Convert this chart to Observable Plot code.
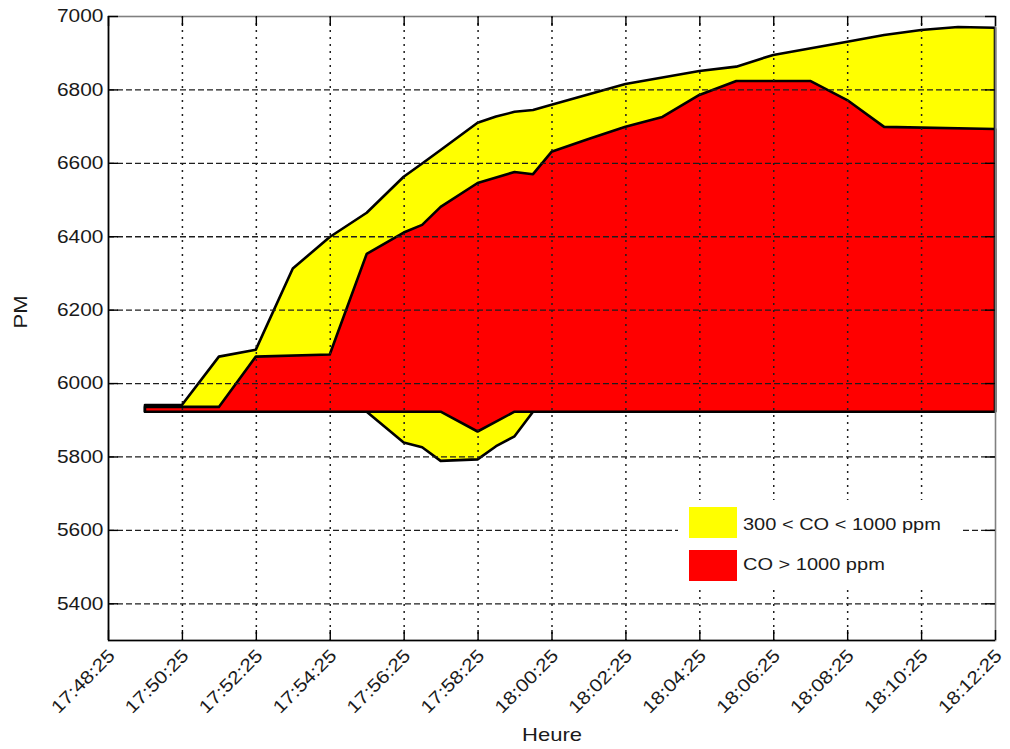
<!DOCTYPE html>
<html><head><meta charset="utf-8">
<script src="https://cdn.jsdelivr.net/npm/d3@7"></script>
<script src="https://cdn.jsdelivr.net/npm/@observablehq/plot@0.6"></script>
<style>html,body{margin:0;padding:0;background:#fff;} svg{display:block}</style>
</head><body>
<script>
// ---- data ----
const baseline = 5922;
const yDomain = [5300, 7000];
const xTickLabels = ["17:48:25","17:50:25","17:52:25","17:54:25","17:56:25","17:58:25","18:00:25",
  "18:02:25","18:04:25","18:06:25","18:08:25","18:10:25","18:12:25"];
const yTickValues = [5400, 5600, 5800, 6000, 6200, 6400, 6600, 6800, 7000];

// yellow band: 300 < CO < 1000 ppm
const yellowTimes = ["17:49:25","17:50:25","17:51:25","17:52:25","17:53:25","17:54:25","17:55:25",
  "17:56:25","17:56:55","17:57:25","17:58:25","17:58:55","17:59:25","17:59:55","18:00:25",
  "18:02:25","18:04:25","18:05:25","18:06:25","18:08:25","18:09:25","18:10:25","18:11:25","18:12:25"];
const yellowHigh = [5940, 5940, 6072, 6091, 6312, 6398, 6464,
  6562, 6598, 6635, 6709, 6726, 6739, 6744, 6758,
  6815, 6850, 6862, 6894, 6930, 6948, 6962, 6970, 6968];
const yellowLow = [5922, 5922, 5922, 5922, 5922, 5922, 5922,
  5838, 5825, 5788, 5792, 5828, 5855, 5922, 5922,
  5922, 5922, 5922, 5922, 5922, 5922, 5922, 5922, 5922];

// red band: CO > 1000 ppm
const redTimes = ["17:49:25","17:50:25","17:51:25","17:52:25","17:54:25","17:55:25","17:56:25",
  "17:56:55","17:57:25","17:58:25","17:59:25","17:59:55","18:00:25","18:01:25","18:02:25",
  "18:03:25","18:04:25","18:05:25","18:07:25","18:08:25","18:09:25","18:12:25"];
const redHigh = [5935, 5935, 5935, 6072, 6078, 6352, 6410,
  6431, 6480, 6545, 6575, 6569, 6630, 6665, 6698,
  6725, 6785, 6823, 6823, 6771, 6698, 6692];
const redLow = [5922, 5922, 5922, 5922, 5922, 5922, 5922,
  5922, 5922, 5868, 5922, 5922, 5922, 5922, 5922,
  5922, 5922, 5922, 5922, 5922, 5922, 5922];

const legendLabels = ["300 < CO < 1000 ppm", "CO > 1000 ppm"];
const legendColors = ["#ffff00", "#ff0000"];
const xLabel = "Heure";
const yLabel = "PM";

// ---- build ----
const parseT = s => new Date(`2000-01-01T${s}Z`);
const fmt = d3.utcFormat("%H:%M:%S");
const xTicks = xTickLabels.map(parseT);
const yellow = yellowTimes.map((t, i) => ({t: parseT(t), low: yellowLow[i], high: yellowHigh[i]}));
const red = redTimes.map((t, i) => ({t: parseT(t), low: redLow[i], high: redHigh[i]}));

const W = 1010, H = 749, mL = 108, mR = 15, mT = 16, mB = 109;
const frameW = W - mL - mR, frameH = H - mT - mB;
const tk = 10;
const font = "'Liberation Sans', Arial, Helvetica, sans-serif";

const plot = Plot.plot({
  width: W, height: H,
  marginLeft: mL, marginRight: mR, marginTop: mT, marginBottom: mB,
  style: {fontFamily: font, fontSize: "18px", color: "#1a1a1a", background: "#fff", overflow: "visible"},
  x: {type: "utc", domain: [xTicks[0], xTicks[xTicks.length - 1]], axis: null},
  y: {domain: yDomain, axis: null},
  marks: [
    Plot.areaY(yellow, {x: "t", y1: "low", y2: "high", fill: legendColors[0], stroke: "#000", strokeWidth: 2.6, strokeLinejoin: "round"}),
    Plot.areaY(red, {x: "t", y1: "low", y2: "high", fill: legendColors[1], stroke: "#000", strokeWidth: 2.6, strokeLinejoin: "round"}),
    Plot.ruleY(yTickValues.slice(0, -1), {stroke: "#1e1e1e", strokeWidth: 1.3, strokeDasharray: "6,3"}),
    Plot.ruleX(xTicks.slice(1, -1), {stroke: "#1e1e1e", strokeWidth: 1.5, strokeDasharray: "2,5"}),
    Plot.frame({stroke: "#808080", strokeWidth: 1.6}),
    Plot.ruleX([xTicks[0]], {stroke: "#000", strokeWidth: 1.6}),
    Plot.ruleY([yDomain[0]], {stroke: "#000", strokeWidth: 1.6}),
    Plot.tickX(xTicks, {x: d => d, stroke: "#000", strokeWidth: 1.4, insetBottom: frameH - tk}),
    Plot.tickX(xTicks, {x: d => d, stroke: "#000", strokeWidth: 1.4, insetTop: frameH - tk}),
    Plot.tickY(yTickValues, {y: d => d, stroke: "#000", strokeWidth: 1.4, insetRight: frameW - tk}),
    Plot.tickY(yTickValues, {y: d => d, stroke: "#000", strokeWidth: 1.4, insetLeft: frameW - tk}),
    Plot.text(yTickValues, {y: d => d, text: d => String(d), frameAnchor: "left", textAnchor: "end", dx: -5, fontSize: 18}),
    Plot.text(xTicks, {x: d => d, text: d => fmt(d), frameAnchor: "bottom", textAnchor: "end", rotate: -45, dx: 7.4, dy: 16.4, fontSize: 18}),
    Plot.text([yLabel], {frameAnchor: "left", dx: -88, rotate: -90, fontSize: 19}),
    Plot.text([xLabel], {frameAnchor: "bottom", dy: 100, fontSize: 19})
  ]
});
document.body.append(plot);

// legend inside the plot area
const svg = d3.select(plot);
const lg = svg.append("g").attr("class", "legend").attr("font-family", font).attr("font-size", 16)
  .attr("fill", "#1a1a1a").attr("text-anchor", "start");
lg.append("rect").attr("x", 678).attr("y", 500).attr("width", 282).attr("height", 90).attr("fill", "#fff");
legendLabels.forEach((lab, i) => {
  lg.append("rect").attr("x", 689).attr("y", 507 + i * 43).attr("width", 48).attr("height", 31).attr("fill", legendColors[i]);
  lg.append("text").attr("x", 743).attr("y", 530 + i * 40).attr("text-anchor", "start").text(lab);
});

// the reference's lettering is horizontally wide: stretch glyphs a little
plot.querySelectorAll("text").forEach(el => {
  const f = el.closest(".legend") ? 1.25 : 1.16;
  const len = el.getComputedTextLength();
  if (len > 0) {
    el.setAttribute("textLength", (len * f).toFixed(1));
    el.setAttribute("lengthAdjust", "spacingAndGlyphs");
  }
});
</script>
</body></html>
